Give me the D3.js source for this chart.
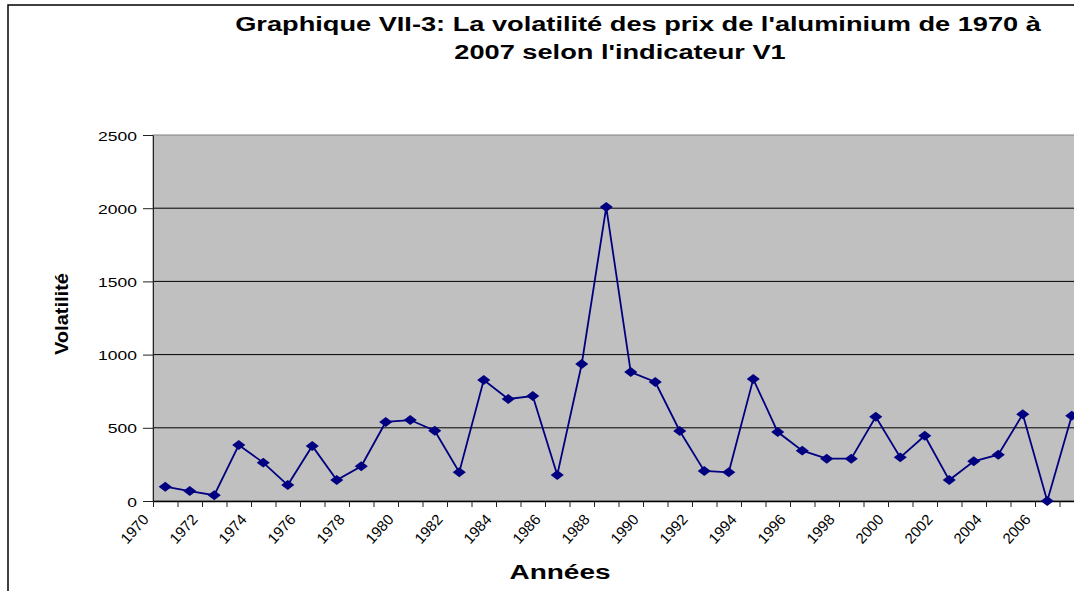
<!DOCTYPE html>
<html>
<head>
<meta charset="utf-8">
<script src="https://cdn.jsdelivr.net/npm/d3@7"></script>
<style>
  body { margin: 0; background: #fff; }
  svg { display: block; font-family: "Liberation Sans", Arial, sans-serif; }
</style>
</head>
<body>
<svg id="chart" width="1074" height="591"></svg>
<script>
// data
var years = [1970, 1971, 1972, 1973, 1974, 1975, 1976, 1977, 1978, 1979,
             1980, 1981, 1982, 1983, 1984, 1985, 1986, 1987, 1988, 1989,
             1990, 1991, 1992, 1993, 1994, 1995, 1996, 1997, 1998, 1999,
             2000, 2001, 2002, 2003, 2004, 2005, 2006, 2007];
var volatility = [98, 68, 40, 382, 262, 109, 376, 143, 237, 540,
                  553, 480, 196, 826, 697, 717, 178, 936, 2008, 881,
                  813, 478, 205, 196, 833, 471, 344, 289, 289, 576,
                  298, 446, 143, 271, 316, 592, 0, 583];
var yTicks = [0, 500, 1000, 1500, 2000, 2500];
var xLabels = [1970, 1972, 1974, 1976, 1978, 1980, 1982, 1984, 1986, 1988,
               1990, 1992, 1994, 1996, 1998, 2000, 2002, 2004, 2006];
var titleLines = ["Graphique VII-3: La volatilité des prix de l'aluminium de 1970 à",
                  "2007 selon l'indicateur V1"];

var stretch = 1.4;   // the picture is wider than tall
var plotLeft = 153, plotTop = 135, plotBottom = 501, step = 24.5;

var svg = d3.select("#chart");

// chart area border
svg.append("rect")
  .attr("x", 8).attr("y", 5).attr("width", 1200).attr("height", 700)
  .attr("fill", "none").attr("stroke", "#000").attr("stroke-width", 1.5);

var x = d3.scaleLinear()
  .domain([years[0], years[years.length - 1] + 1])
  .range([plotLeft, plotLeft + years.length * step]);
var y = d3.scaleLinear().domain([0, 2500]).range([plotBottom, plotTop]);

// plot area
svg.append("rect")
  .attr("x", plotLeft).attr("y", plotTop)
  .attr("width", x.range()[1] - plotLeft).attr("height", plotBottom - plotTop)
  .attr("fill", "#c0c0c0").attr("stroke", "#808080").attr("stroke-width", 1);

svg.append("g").selectAll("line")
  .data(yTicks.filter(function(d) { return d > 0 && d < 2500; }))
  .enter().append("line")
  .attr("x1", plotLeft).attr("x2", x.range()[1])
  .attr("y1", function(d) { return y(d); }).attr("y2", function(d) { return y(d); })
  .attr("stroke", "#000").attr("stroke-width", 1);

// y axis
var yAxis = svg.append("g")
  .attr("transform", "translate(" + plotLeft + ",0)")
  .call(d3.axisLeft(y).tickValues(yTicks).tickSize(10).tickSizeOuter(0)
    .tickFormat(d3.format("d")));
yAxis.select(".domain").attr("stroke", "#222");
yAxis.selectAll(".tick line").attr("stroke", "#222");
yAxis.selectAll(".tick text")
  .attr("x", null).attr("dy", null)
  .attr("text-anchor", "end")
  .attr("transform", "translate(-16,5) scale(" + stretch + ",1)")
  .style("font-size", "12.5px").attr("fill", "#000");

// x axis, ticks between categories
var bounds = years.concat([years[years.length - 1] + 1]);
var xAxis = svg.append("g")
  .attr("transform", "translate(0," + plotBottom + ")")
  .call(d3.axisBottom(x).tickValues(bounds).tickSize(6).tickSizeOuter(0)
    .tickFormat(function(d) { return xLabels.indexOf(d) >= 0 ? d : ""; }));
xAxis.select(".domain").attr("stroke", "#000").attr("stroke-width", 1.5);
xAxis.selectAll(".tick line").attr("stroke", "#222");
xAxis.selectAll(".tick text")
  .attr("y", null).attr("dy", null)
  .attr("text-anchor", "end")
  .attr("transform", "translate(-4,19) rotate(-48)")
  .style("font-size", "15px").attr("fill", "#000");

// series
var line = d3.line()
  .x(function(d, i) { return x(years[i] + 0.5); })
  .y(function(d) { return y(d); });

svg.append("path")
  .datum(volatility)
  .attr("d", line)
  .attr("fill", "none").attr("stroke", "#000080").attr("stroke-width", 1.8);

svg.append("g").selectAll("path")
  .data(volatility)
  .enter().append("path")
  .attr("d", d3.symbol(d3.symbolSquare, 55))
  .attr("transform", function(d, i) {
    return "translate(" + x(years[i] + 0.5) + "," + y(d) + ") scale(1.25,0.95) rotate(45)";
  })
  .attr("fill", "#000080");

// titles
var titleX = [638, 620];
svg.append("g").selectAll("text")
  .data(titleLines)
  .enter().append("text")
  .attr("transform", function(d, i) {
    return "translate(" + titleX[i] + "," + (31 + i * 28) + ") scale(1.36,1)";
  })
  .attr("text-anchor", "middle")
  .attr("font-size", 20).attr("font-weight", "bold")
  .text(function(d) { return d; });

svg.append("text")
  .attr("transform", "translate(560,579) scale(" + stretch + ",1)")
  .attr("text-anchor", "middle")
  .attr("font-size", 20).attr("font-weight", "bold")
  .text("Années");

svg.append("text")
  .attr("transform", "translate(68,314) rotate(-90)")
  .attr("text-anchor", "middle")
  .attr("font-size", 18).attr("font-weight", "bold")
  .attr("textLength", 82).attr("lengthAdjust", "spacingAndGlyphs")
  .text("Volatilité");
</script>
</body>
</html>
